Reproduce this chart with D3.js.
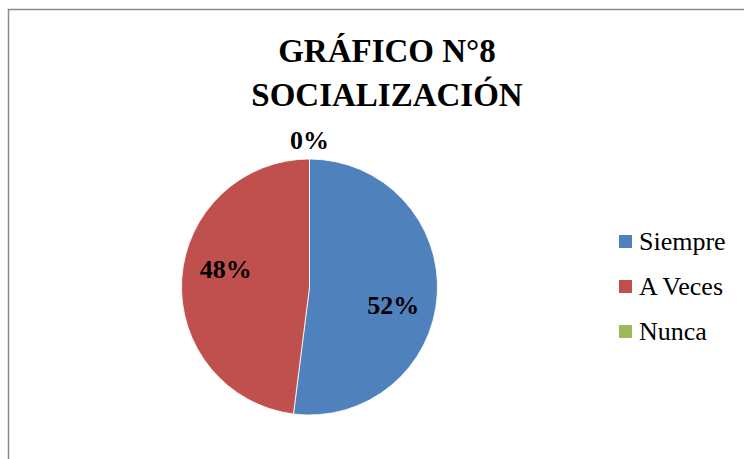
<!DOCTYPE html>
<html>
  <head>
    <meta charset="utf-8">
    <title>Gráfico N°8 Socialización</title>
  </head>
  <body style="margin:0">
    <svg width="744" height="459" font-family="Liberation Serif"></svg>
    <script src="https://d3js.org/d3.v7.min.js"></script>
    <script>

      var categories = ["Siempre", "A Veces", "Nunca"];
      var values = [52, 48, 0];
      var colors = ["#4F81BD", "#C0504D", "#9BBB59"];
      var titleLines = ["GRÁFICO N°8", "SOCIALIZACIÓN"];

      var serif = "Liberation Serif";

      var data = categories.map(function(c, i) { return {name: c, value: values[i]}; });

      var svg = d3.select("svg");

      // chart frame (runs off the right and bottom edges)
      svg.append("rect")
          .attr("x", 8.5)
          .attr("y", 9.5)
          .attr("width", 800)
          .attr("height", 500)
          .attr("fill", "#fff")
          .attr("stroke", "#8a8a8a")
          .attr("stroke-width", 1.5);

      svg.selectAll(".title")
          .data(titleLines)
        .enter().append("text")
          .attr("class", "title")
          .attr("x", 387)
          .attr("y", function(d, i) { return 62 + i * 44; })
          .attr("font-family", serif)
          .attr("font-weight", "bold")
          .attr("font-size", 33)
          .attr("text-anchor", "middle")
          .text(function(d) { return d; });

      var cx = 309.5, cy = 287, radius = 128;

      var pie = d3.pie().sort(null).value(function(d) { return d.value; });
      var arc = d3.arc().innerRadius(0).outerRadius(radius);

      var color = d3.scaleOrdinal().domain(categories).range(colors);

      var g = svg.append("g")
          .attr("transform", "translate(" + cx + "," + cy + ")");

      var arcs = pie(data);

      g.selectAll(".slice")
          .data(arcs)
        .enter().append("path")
          .attr("class", "slice")
          .attr("d", arc)
          .attr("fill", function(d) { return color(d.data.name); })
          .attr("stroke", "#fff")
          .attr("stroke-width", 0.8);

      g.selectAll(".label")
          .data(arcs)
        .enter().append("text")
          .attr("class", "label")
          .attr("font-family", serif)
          .attr("font-weight", "bold")
          .attr("font-size", 26)
          .attr("text-anchor", "middle")
          .attr("dy", "0.35em")
          .attr("transform", function(d) {
            var a, r;
            if (d.data.value === 0) {
              // empty slice: label sits outside the rim
              a = d.startAngle;
              r = radius + 19;
            } else {
              a = (d.startAngle + d.endAngle) / 2 + 0.15;
              r = radius * 0.67;
            }
            return "translate(" + [Math.sin(a) * r, -Math.cos(a) * r] + ")";
          })
          .text(function(d) { return Math.round(d.data.value) + "%"; });

      var legend = svg.append("g")
          .attr("transform", "translate(619,235)");

      var item = legend.selectAll("g")
          .data(categories)
        .enter().append("g")
          .attr("transform", function(d, i) { return "translate(0," + i * 45 + ")"; });

      item.append("rect")
          .attr("width", 13)
          .attr("height", 13)
          .attr("fill", function(d) { return color(d); });

      item.append("text")
          .attr("font-family", serif)
          .attr("font-size", 26)
          .attr("x", 20)
          .attr("y", 15)
          .text(function(d) { return d; });
    </script>
  </body>
</html>
